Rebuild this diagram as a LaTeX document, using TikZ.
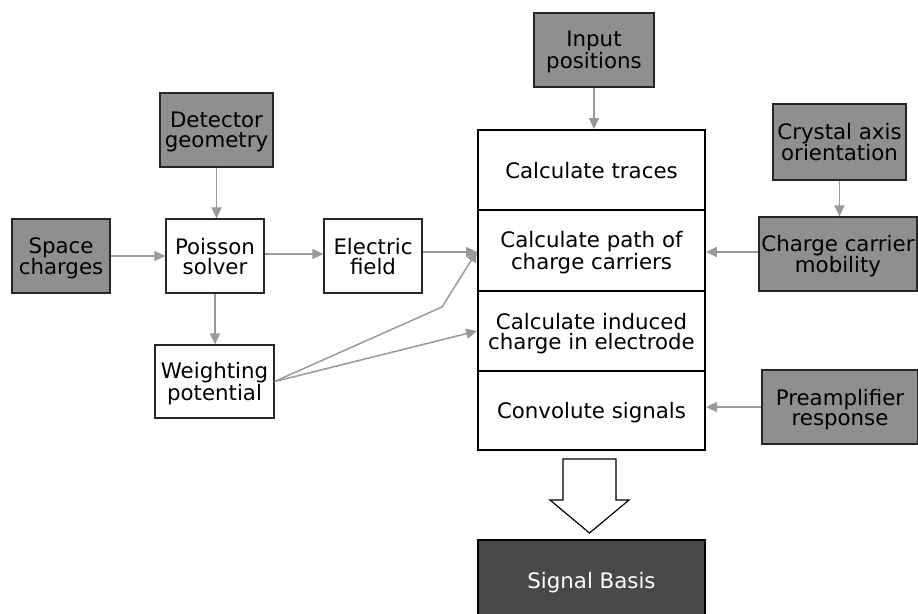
\documentclass[tikz,border=0pt]{standalone}
\usepackage{fontspec}
\setmainfont{DejaVu Sans}
\usetikzlibrary{arrows.meta}
\definecolor{boxgray}{HTML}{8F8F8F}
\definecolor{darkbox}{HTML}{484848}
\definecolor{arrgray}{HTML}{999999}
\tikzset{
  txt/.style={font=\fontsize{21.4}{20}\selectfont, align=center, inner sep=0pt, text depth=0pt},
  wbox/.style={txt, draw=black!85, line width=1.2bp, fill=white},
  gbox/.style={txt, draw=black!85, line width=1.2bp, fill=boxgray},
  mainrow/.style={txt, draw=black, line width=1.8bp, fill=white, minimum width=227bp},
  conn/.style={draw=arrgray, line width=1.5bp, -{Triangle[length=11bp,width=10bp]}},
}
\begin{document}
\begin{tikzpicture}[x=1bp,y=-1bp]
\useasboundingbox (0,0) rectangle (918,614);
% left side
\node[gbox, minimum width=113bp, minimum height=74bp] (det) at (216.5,130) {Detector\\geometry};
\node[gbox, minimum width=98bp, minimum height=74bp] (space) at (61,256) {Space\\charges};
\node[wbox, minimum width=98bp, minimum height=74bp] (pois) at (215,256) {Poisson\\solver};
\node[wbox, minimum width=98bp, minimum height=74bp] (efield) at (373,256) {Electric\\field};
\node[wbox, minimum width=119bp, minimum height=73bp] (wpot) at (214.5,381.5) {Weighting\\potential};
% top and right
\node[gbox, minimum width=120bp, minimum height=74bp] (inp) at (594,50) {Input\\positions};
\node[gbox, minimum width=133bp, minimum height=76bp] (cryst) at (839.5,142) {Crystal axis\\orientation};
\node[gbox, minimum width=158bp, minimum height=74bp] (mob) at (838,254) {Charge carrier\\mobility};
\node[gbox, minimum width=156bp, minimum height=74bp] (pre) at (840,407) {Preamplifier\\response};
% main column
\node[mainrow, minimum height=80bp] (traces) at (591.5,170) {Calculate traces};
\node[mainrow, minimum height=81bp] (path) at (591.5,250.5) {Calculate path of\\charge carriers};
\node[mainrow, minimum height=80bp] (induced) at (591.5,331) {Calculate induced\\charge in electrode};
\node[mainrow, minimum height=79bp] (conv) at (591.5,410.5) {Convolute signals};
\node[txt, draw=black, line width=1.8bp, fill=darkbox, text=white, minimum width=227bp, minimum height=80bp] (sig) at (591.5,580) {Signal Basis};
% hollow arrow
\draw[black, line width=1.2bp, fill=white] (563,459) -- (616,459) -- (616,500) -- (629,500) -- (589.5,533) -- (550,500) -- (563,500) -- cycle;
% connectors
\coordinate (bend) at (442,307);
\draw[conn] (det.south) -- (det.south |- pois.north);
\draw[conn] (space.east) -- (pois.west);
\draw[conn] ([yshift=2bp]pois.east) -- ([yshift=2bp]efield.west);
\draw[conn] (pois.south) -- (pois.south |- wpot.north);
\draw[conn] ([yshift=4bp]efield.east) -- ([yshift=4bp]efield.east -| path.west);
\draw[conn] (wpot.east) -- (bend) -- ([yshift=-0.5bp]path.west);
\draw[conn] (wpot.east) -- (induced.west);
\draw[conn] (inp.south) -- (inp.south |- traces.north);
\draw[conn] (cryst.south) -- (cryst.south |- mob.north);
\draw[conn] ([yshift=2bp]mob.west) -- ([yshift=2bp]mob.west -| path.east);
\draw[conn] (pre.west) -- (pre.west -| conv.east);
\end{tikzpicture}
\end{document}
